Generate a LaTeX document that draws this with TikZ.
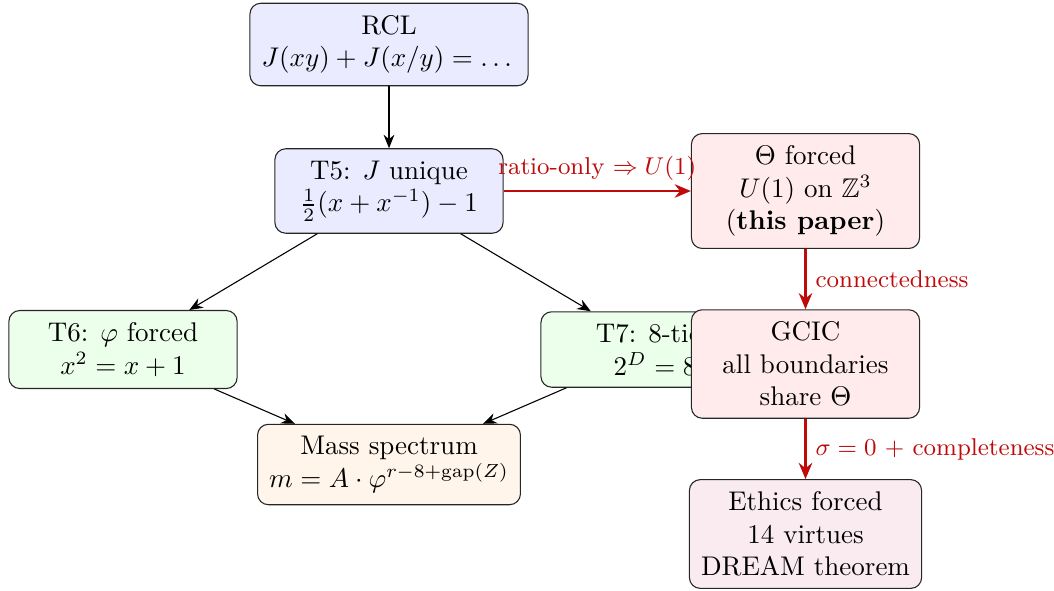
\documentclass[tikz,border=0pt]{standalone}
\usepackage{amsmath,amssymb}
\usetikzlibrary{arrows.meta}
\definecolor{edgered}{RGB}{190,10,10}
\tikzset{
  box/.style={draw=black!85, rounded corners=4pt, align=center, inner xsep=4.3pt, inner ysep=4.5pt, minimum width=84.5pt, font=\normalsize},
  bluebox/.style={box, fill=blue!8},
  greenbox/.style={box, fill=green!8},
  orangebox/.style={box, fill=orange!8},
  redbox/.style={box, fill=red!8},
  purplebox/.style={box, fill=purple!8},
  blackarrow/.style={-{Stealth[length=5pt,width=4pt]}, line width=0.4pt, black},
  redarrow/.style={-{Stealth[length=6pt,width=5pt]}, line width=0.8pt, edgered},
  lbl/.style={font=\small, text=edgered}
}
\begin{document}
\begin{tikzpicture}[x=0.37037pt, y=-0.37037pt]
\useasboundingbox (0,0) rectangle (1054,590);
\node[bluebox] (rcl) at (389,44.5) {RCL\\ $J(xy)+J(x/y)=\dots$};
\node[bluebox] (t5) at (389,191) {T5: $J$ unique\\ $\frac{1}{2}(x+x^{-1})-1$};
\node[redbox] (theta) at (805.5,191) {$\Theta$ forced\\ $U(1)$ on $\mathbb{Z}^3$\\ (\textbf{this paper})};
\node[greenbox] (t6) at (123,349.5) {T6: $\varphi$ forced\\ $x^2=x+1$};
\node[greenbox] (t7) at (655,349.5) {T7: 8-tick\\ $2^D=8$};
\node[redbox] (gcic) at (805.5,364) {GCIC\\ all boundaries\\ share $\Theta$};
\node[orangebox] (mass) at (389,464.5) {Mass spectrum\\ $m=A\cdot\varphi^{r-8+\mathrm{gap}(Z)}$};
\node[purplebox] (ethics) at (805.5,534) {Ethics forced\\ 14 virtues\\ DREAM theorem};

\draw[blackarrow] (rcl) -- (t5);
\draw[blackarrow] (t5) -- (t6);
\draw[blackarrow] (t5) -- (t7);
\draw[blackarrow] (t6) -- (mass);
\draw[blackarrow] (t7) -- (mass);
\draw[redarrow] (t5) -- node[lbl, above] {ratio-only $\Rightarrow U(1)$} (theta);
\draw[redarrow] (theta) -- node[lbl, right] {connectedness} (gcic);
\draw[redarrow] (gcic) -- node[lbl, right] {$\sigma=0$ + completeness} (ethics);
\end{tikzpicture}
\end{document}
